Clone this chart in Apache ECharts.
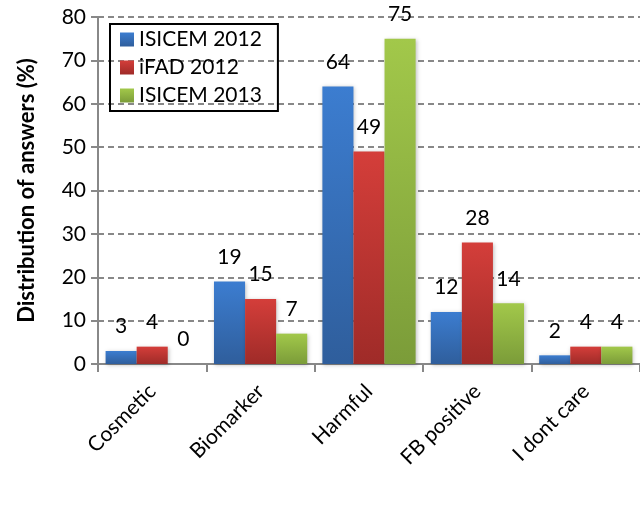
<!DOCTYPE html>
<html>
<head>
<meta charset="utf-8">
<script src="https://cdn.jsdelivr.net/npm/echarts@6/dist/echarts.min.js"></script>
<style>
	html, body { margin: 0; padding: 0; background: #fff; }
	#draw { width: 640px; height: 525px; }
</style>
</head>
<body>
<div id="draw"></div>
<script>
	var categories = ['Cosmetic', 'Biomarker', 'Harmful', 'FB positive', 'I dont care'];
	var isicem2012 = [3, 19, 64, 12, 2];
	var ifad2012 = [4, 15, 49, 28, 4];
	var isicem2013 = [0, 7, 75, 14, 4];
	var seriesNames = ['ISICEM 2012', 'iFAD 2012', 'ISICEM 2013'];

	var font = 'Lato, "Open Sans", sans-serif';

	function grad(top, bottom) {
		return new echarts.graphic.LinearGradient(0, 0, 0, 1, [
			{ offset: 0, color: top },
			{ offset: 1, color: bottom }
		]);
	}

	function makeSeries(name, data, c1, c2) {
		return {
			name: name,
			type: 'bar',
			data: data,
			barGap: 0,
			barCategoryGap: '14%',
			itemStyle: {
				color: grad(c1, c2),
				shadowColor: 'rgba(0,0,0,0.25)',
				shadowBlur: 4,
				shadowOffsetX: 1,
				shadowOffsetY: 1
			},
			label: {
				show: true,
				position: 'top',
				distance: 14,
				color: '#000',
				fontSize: 21,
				fontFamily: font
			}
		};
	}

	var myChart = echarts.init(document.getElementById('draw'));
	myChart.setOption({
		animation: false,
		grid: {
			top: 17,
			bottom: 161,
			left: 98,
			right: 0
		},
		legend: {
			orient: 'vertical',
			left: 110,
			top: 24,
			data: seriesNames,
			borderColor: '#000',
			borderWidth: 2,
			padding: [5, 16, 5, 10],
			itemGap: 7,
			itemWidth: 14,
			itemHeight: 14,
			icon: 'rect',
			textStyle: {
				color: '#000',
				fontSize: 21,
				fontFamily: font
			}
		},
		xAxis: {
			type: 'category',
			data: categories,
			axisLine: {
				lineStyle: { color: '#888', width: 2 }
			},
			axisTick: {
				show: true,
				length: 8,
				lineStyle: { color: '#888', width: 2 }
			},
			axisLabel: {
				rotate: 45,
				color: '#000',
				fontSize: 21,
				fontFamily: font,
				margin: 24
			}
		},
		yAxis: {
			type: 'value',
			min: 0,
			max: 80,
			interval: 10,
			name: 'Distribution of answers (%)',
			nameLocation: 'middle',
			nameGap: 60,
			nameTextStyle: {
				color: '#000',
				fontSize: 22,
				fontWeight: 'bold',
				fontFamily: font
			},
			axisLine: {
				show: true,
				lineStyle: { color: '#888', width: 2 }
			},
			axisTick: {
				show: true,
				length: 7,
				lineStyle: { color: '#888', width: 2 }
			},
			axisLabel: {
				color: '#000',
				fontSize: 21,
				fontFamily: font,
				margin: 12
			},
			splitLine: {
				lineStyle: { color: '#888', width: 2, type: [6, 4] }
			}
		},
		series: [
			makeSeries(seriesNames[0], isicem2012, '#3c7dd0', '#2f5e9c'),
			makeSeries(seriesNames[1], ifad2012, '#d43e3a', '#9f2b28'),
			makeSeries(seriesNames[2], isicem2013, '#a2c84a', '#7b9c39')
		]
	});
</script>
</body>
</html>
